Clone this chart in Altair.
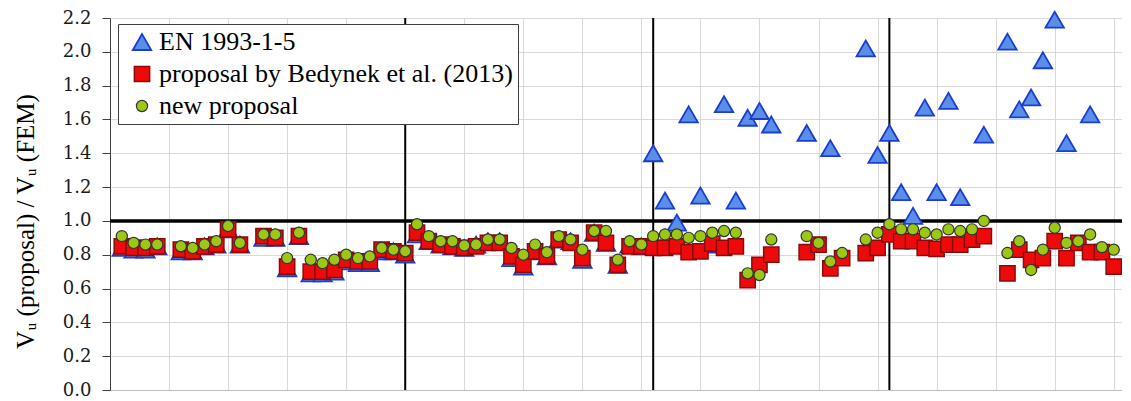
import altair as alt
import pandas as pd

# specimen index along the x axis
idx = [1, 2, 3, 4, 6, 7, 8, 9, 10, 11,
       13, 14, 15, 16, 17, 18, 19, 20, 21, 22, 23, 24, 25,
       26, 27, 28, 29, 30, 31, 32, 33, 34, 35, 36, 37, 38, 39, 40, 41, 42, 43, 44, 45,
       46, 47, 48, 49, 50, 51, 52, 53, 54, 55, 56, 59, 60, 61, 62, 64, 65,
       66, 67, 68, 69, 70, 71, 72, 73, 74, 76, 77, 78, 79, 80, 81, 82, 83, 84, 85]

en = [0.84, 0.83, 0.83, 0.85, 0.82, 0.82, 0.85, 0.86, 0.95, 0.86,
      0.90, 0.90, 0.72, 0.91, 0.69, 0.69, 0.70, 0.76, 0.75, 0.75, 0.82, 0.82, 0.80,
      0.92, 0.88, 0.86, 0.85, 0.84, 0.86, 0.88, 0.88, 0.78, 0.73, 0.82, 0.79, 0.89, 0.88, 0.77, 0.93, 0.87, 0.74, 0.86, 0.85,
      1.40, 1.12, 0.99, 1.63, 1.15, 0.86, 1.69, 1.12, 1.61, 1.65, 1.57, 1.52, None, 1.43, None, 2.02, 1.39,
      1.52, 1.17, 1.03, 1.67, 1.17, 1.71, 1.14, None, 1.51, 2.06, 1.66, 1.73, 1.95, 2.19, 1.46, None, 1.63, None, None]

bedynek = [0.85, 0.84, 0.84, 0.85, 0.83, 0.82, 0.85, 0.86, 0.95, 0.86,
           0.91, 0.90, 0.73, 0.91, 0.70, 0.70, 0.71, 0.77, 0.76, 0.76, 0.83, 0.82, 0.81,
           0.93, 0.88, 0.86, 0.85, 0.84, 0.85, 0.87, 0.87, 0.79, 0.74, 0.82, 0.79, 0.89, 0.87, 0.78, 0.93, 0.87, 0.74, 0.85, 0.85,
           0.84, 0.84, 0.85, 0.815, 0.82, 0.865, 0.84, 0.85, 0.65, 0.74, 0.80, 0.815, 0.86, 0.72, 0.78, 0.81, 0.84,
           0.92, 0.88, 0.88, 0.84, 0.835, 0.86, 0.86, 0.89, 0.91, 0.69, 0.83, 0.77, 0.78, 0.88, 0.78, 0.87, 0.815, 0.815, 0.73]

new = [0.91, 0.87, 0.86, 0.86, 0.85, 0.84, 0.86, 0.88, 0.97, 0.87,
       0.92, 0.92, 0.78, 0.93, 0.77, 0.75, 0.77, 0.80, 0.78, 0.79, 0.84, 0.83, 0.82,
       0.98, 0.91, 0.88, 0.88, 0.855, 0.86, 0.89, 0.89, 0.84, 0.80, 0.86, 0.815, 0.91, 0.89, 0.83, 0.94, 0.94, 0.77, 0.88, 0.86,
       0.91, 0.92, 0.92, 0.90, 0.91, 0.93, 0.94, 0.93, 0.69, 0.68, 0.89, 0.91, 0.87, 0.76, 0.81, 0.89, 0.93,
       0.98, 0.95, 0.95, 0.93, 0.92, 0.95, 0.94, 0.95, 1.00, 0.81, 0.88, 0.71, 0.83, 0.96, 0.87, 0.88, 0.92, 0.845, 0.83]

series_names = ["EN 1993-1-5", "proposal by Bedynek et al. (2013)", "new proposal"]
group_lines = [25, 46, 66]
ref_value = [1.0]
y_ticks = [0.0, 0.2, 0.4, 0.6, 0.8, 1.0, 1.2, 1.4, 1.6, 1.8, 2.0, 2.2]
x_grid = [0, 5, 10, 15, 20, 25, 30, 35, 40, 45, 50, 55, 60, 65, 70, 75, 80, 85]

rows = []
for k, (name, vals) in enumerate(zip(series_names, [en, bedynek, new])):
    for i, v in zip(idx, vals):
        if v is not None:
            rows.append({"idx": i, "value": v, "series": name, "ord": k})
df = pd.DataFrame(rows)

xscale = alt.Scale(domain=[0, 85.7], nice=False, zero=False)
yscale = alt.Scale(domain=[0, 2.2], nice=False)

x_axis = alt.Axis(values=x_grid, labels=False, ticks=False, title=None, grid=True,
                  gridColor="#d9d9d9", domainColor="#bfbfbf")
y_axis = alt.Axis(values=y_ticks, format=".1f", title="V\u1d64 (proposal) / V\u1d64 (FEM)",
                  grid=True, gridColor="#d9d9d9", tickSize=8, tickColor="#404040",
                  domainColor="#404040", labelPadding=11, labelFont="DejaVu Serif", labelFontSize=18,
                  labelColor="#1a1a1a", titleFont="Times New Roman", titleFontSize=25, titleFontWeight="normal",
                  titleColor="#000000", titleAngle=270, titleX=-85, titleY=203,
                  titleAlign="center", titleBaseline="middle")

X = alt.X("idx:Q", scale=xscale, axis=x_axis)
Y = alt.Y("value:Q", scale=yscale, axis=y_axis)

leg = alt.Legend(title=None)
points = alt.Chart(df).mark_point(filled=True, opacity=1).encode(
    x=X,
    y=Y,
    shape=alt.Shape("series:N", scale=alt.Scale(domain=series_names, range=["triangle-up", "square", "circle"]), legend=leg),
    fill=alt.Fill("series:N", scale=alt.Scale(domain=series_names, range=["#5b8ee8", "#ee0a0a", "#9ac814"]), legend=leg),
    stroke=alt.Stroke("series:N", scale=alt.Scale(domain=series_names, range=["#1a3fd0", "#8a0a0a", "#333333"]), legend=leg),
    size=alt.Size("series:N", scale=alt.Scale(domain=series_names, range=[340, 125, 100]), legend=leg),
    strokeWidth=alt.StrokeWidth("series:N", scale=alt.Scale(domain=series_names, range=[1.8, 1.2, 1.6]), legend=leg),
    order=alt.Order("ord:Q"),
)

vrules = alt.Chart(pd.DataFrame({"idx": group_lines})).mark_rule(color="black", strokeWidth=2).encode(x=X)
hrule = alt.Chart(pd.DataFrame({"value": ref_value})).mark_rule(color="black", strokeWidth=3.5).encode(y=Y)

chart = alt.layer(vrules, hrule, points).properties(
    width=1012, height=372,
    autosize=alt.AutoSizeParams(type="none"),
    padding={"left": 102, "top": 10, "right": 0, "bottom": 9},
).configure_view(stroke=None).configure_legend(
    orient="none", legendX=8, legendY=6,
    labelFont="Liberation Serif", labelFontSize=26, labelColor="#000000", labelLimit=600,
    fillColor="#ffffff", strokeColor="#404040", padding=5,
    rowPadding=6, symbolOffset=6, labelOffset=4,
)

chart.save("out.html", embed_options={"renderer": "svg", "actions": False})
